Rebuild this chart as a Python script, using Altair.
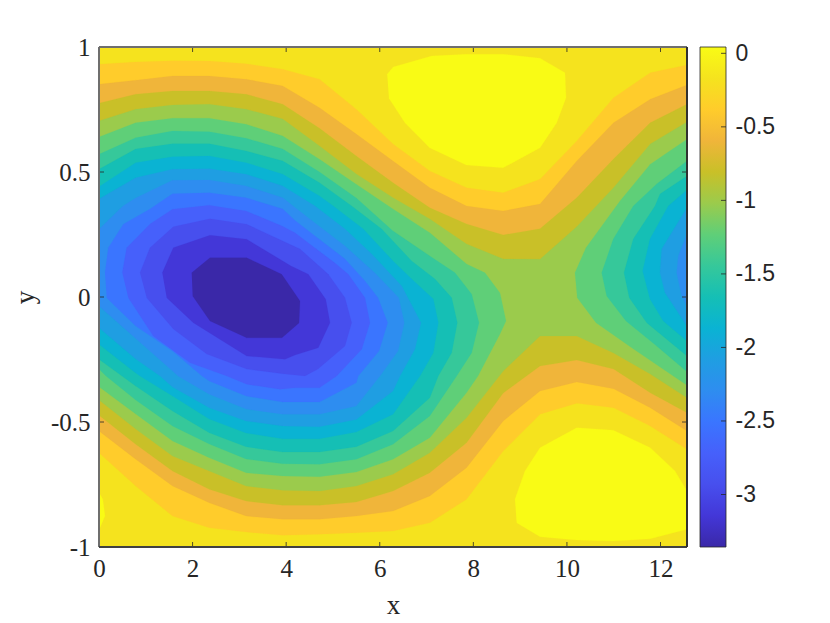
import altair as alt
import pandas as pd

GRID_X = [0, .785, 1.571, 2.356, 3.142, 3.927, 4.712, 5.498, 6.283, 7.069, 7.854, 8.639, 9.425, 10.21, 10.996, 11.781, 12.566]

C1_TOP = [.931, .94, .945, .944, .933, .911, .871, .751, .612, .504, .437, .417, .471, .624, .797, .897, .928]
C1_BOT = [-.623, -.756, -.876, -.923, -.94, -.953, -.949, -.943, -.936, -.903, -.809, -.616, -.469, -.425, -.443, -.516, -.609]
C2_TOP = [.851, .867, .884, .884, .871, .844, .757, .652, .544, .437, .364, .344, .372, .544, .697, .791, .848]
C2_BOT = [-.536, -.649, -.756, -.823, -.876, -.889, -.889, -.876, -.856, -.796, -.683, -.496, -.376, -.34, -.367, -.443, -.536]
C3_TOP = [.775, .811, .824, .824, .811, .771, .675, .564, .457, .357, .292, .248, .273, .397, .552, .697, .771]
C3_BOT = [-.473, -.589, -.696, -.769, -.816, -.833, -.833, -.82, -.776, -.703, -.583, -.384, -.276, -.252, -.288, -.383, -.463]
C4_TOP = [.704, .751, .768, .771, .751, .712, .604, .492, .397, .312, .212, .152, .151, .281, .437, .612, .7]
C4_BOT = [-.412, -.528, -.636, -.696, -.756, -.773, -.776, -.756, -.709, -.623, -.483, -.296, -.156, -.156, -.224, -.308, -.403]

C5_L = [(0,.64),(.785,.697),(1.571,.715),(2.356,.715),(3.142,.691),(3.927,.644),(4.712,.551),(5.498,.451),(6.283,.352),(7.069,.257),(7.854,.132),(8.249,.097),(8.57,.016),(8.698,-.096),(8.57,-.148),(8.1,-.316),(7.854,-.383),(7.069,-.563),(6.283,-.649),(5.498,-.7),(4.712,-.719),(3.927,-.716),(3.142,-.703),(2.356,-.643),(1.571,-.576),(.785,-.468),(0,-.359)]
C5_R = [(12.566,.631),(11.781,.531),(11.134,.384),(10.407,.197),(10.172,.097),(10.221,-.003),(10.621,-.103),(11.384,-.203),(12.273,-.316),(12.566,-.353)]
C6_R = [(12.566,.544),(11.918,.452),(11.418,.364),(10.991,.232),(10.743,.097),(10.85,.004),(11.262,-.096),(11.918,-.196),(12.566,-.299)]
C7_R = [(12.566,.484),(11.989,.412),(11.882,.364),(11.418,.232),(11.22,.097),(11.333,-.003),(11.705,-.103),(12.566,-.236)]
C8_R = [(12.566,.428),(12.166,.364),(11.775,.232),(11.619,.104),(11.775,-.008),(12.059,-.096),(12.566,-.176)]
C9_R = [(12.566,.357),(12.025,.192),(11.989,.097),(12.096,.017),(12.566,-.116)]
C10_R = [(12.566,.252),(12.38,.164),(12.345,.097),(12.452,.004),(12.566,-.036)]
C6_L = [(0,.571),(.785,.637),(1.571,.664),(2.356,.661),(3.142,.635),(3.927,.592),(4.712,.5),(5.498,.396),(6.283,.264),(7.069,.164),(7.608,.097),(7.965,.011),(8.121,-.103),(7.965,-.223),(7.644,-.316),(7.069,-.476),(6.283,-.589),(5.498,-.649),(4.712,-.669),(3.927,-.667),(3.142,-.648),(2.356,-.588),(1.571,-.516),(.785,-.412),(.15,-.316),(0,-.288)]
C7_L = [(0,.511),(.785,.592),(1.571,.613),(2.356,.613),(3.142,.584),(3.927,.544),(4.712,.457),(5.4,.364),(6.041,.272),(6.682,.144),(7.18,.072),(7.537,-.003),(7.657,-.103),(7.537,-.223),(7.251,-.316),(7.069,-.403),(6.283,-.536),(5.498,-.599),(4.712,-.62),(3.927,-.62),(3.142,-.599),(2.356,-.543),(1.571,-.456),(.785,-.356),(0,-.249)]
C8_L = [(0,.441),(.785,.537),(1.571,.561),(2.356,.564),(3.142,.537),(3.927,.491),(4.712,.404),(5.007,.364),(5.648,.272),(6.283,.144),(6.682,.072),(7.144,-.008),(7.251,-.103),(7.144,-.223),(6.86,-.316),(6.283,-.469),(5.498,-.54),(4.712,-.567),(3.927,-.567),(3.142,-.544),(2.356,-.488),(1.571,-.396),(.876,-.316),(.785,-.304),(0,-.189)]
C9_L = [(0,.392),(.785,.477),(1.571,.511),(2.356,.513),(3.142,.491),(3.927,.444),(4.616,.364),(5.257,.272),(5.828,.172),(6.469,.044),(6.881,-.103),(6.753,-.208),(6.432,-.316),(6.283,-.376),(5.498,-.49),(4.712,-.519),(3.927,-.516),(3.142,-.496),(2.356,-.443),(1.571,-.36),(1.304,-.316),(.785,-.248),(0,-.123)]
C10_L = [(0,.271),(.513,.364),(.785,.396),(1.571,.467),(2.356,.468),(3.142,.444),(3.927,.397),(4.189,.358),(4.616,.296),(5.257,.204),(5.898,.096),(6.405,-.003),(6.524,-.103),(6.39,-.216),(6.005,-.316),(5.498,-.436),(4.712,-.469),(3.927,-.469),(3.142,-.448),(2.356,-.389),(1.688,-.316),(1.571,-.296),(.785,-.166),(0,-.036)]
C11 = [(.128,.097),(.199,.197),(.519,.291),(1.09,.352),(1.571,.413),(2.356,.417),(3.142,.397),(3.927,.352),(4.189,.306),(4.616,.244),(5.257,.152),(5.684,.064),(5.962,-.003),(6.169,-.103),(5.984,-.216),(5.541,-.316),(5.498,-.343),(4.712,-.42),(3.927,-.42),(3.142,-.396),(2.356,-.336),(2.201,-.316),(1.571,-.216),(.785,-.116),(.342,-.036),(.165,-.003)]
C12 = [(.498,.097),(.592,.197),(1.09,.292),(1.571,.351),(2.356,.367),(3.142,.344),(3.911,.284),(4.189,.257),(4.616,.196),(5.043,.136),(5.328,.091),(5.684,-.003),(5.791,-.103),(5.614,-.209),(5.08,-.316),(4.712,-.363),(4.189,-.363),(3.868,-.369),(3.156,-.349),(2.729,-.316),(1.945,-.263),(1.16,-.156),(.626,-.003)]
C13 = [(.876,.097),(1.09,.197),(1.588,.281),(2.372,.313),(3.156,.291),(4.295,.192),(4.9,.091),(5.257,-.003),(5.4,-.103),(5.257,-.196),(4.68,-.288),(4.402,-.316),(3.975,-.308),(3.156,-.288),(2.302,-.228),(1.588,-.128),(1.019,-.003)]
C14 = [(1.353,.097),(1.588,.197),(2.372,.247),(3.156,.231),(4.103,.124),(4.473,.091),(4.845,-.009),(4.936,-.103),(4.686,-.203),(4.189,-.232),(3.975,-.249),(3.156,-.236),(2.015,-.103),(1.447,-.003)]
C15 = [(1.981,.097),(2.372,.157),(3.156,.157),(3.904,.091),(4.295,-.016),(4.274,-.104),(3.911,-.163),(3.156,-.163),(2.372,-.096),(2.002,.004)]
TOP_ISLAND = [(6.16,.891),(6.289,.92),(7.11,.964),(7.85,.971),(8.639,.971),(9.425,.955),(9.958,.897),(9.98,.797),(9.781,.697),(9.425,.597),(8.639,.517),(7.85,.528),(7.067,.597),(6.539,.697),(6.197,.795)]
LOW_ISLAND = [(8.89,-.809),(9.104,-.696),(9.425,-.603),(10.21,-.523),(10.99,-.533),(11.781,-.603),(12.309,-.696),(12.566,-.776),(12.566,-.929),(11.781,-.967),(10.99,-.976),(10.21,-.972),(9.425,-.959),(8.926,-.903)]
LEFT_SPOT = [(0,-.783),(.079,-.808),(.128,-.876),(.021,-.923),(0,-.927)]

# band colours, darkest (lowest level) to brightest (highest level)
COLORS = ["#3A28A8","#4337D8","#474FEE","#4660FB","#3A75FF","#2E8DF0","#1F9EE2","#0AB3D3","#15BFB5","#36C89A","#5FCF78","#9BCB4C","#C9C028","#F0B53A","#FFCC2B","#F5E31E","#F9FB15"]

XTICKS = [0, 2, 4, 6, 8, 10, 12]
YTICKS = [-1, -0.5, 0, 0.5, 1]
CBTICKS = [-3, -2.5, -2, -1.5, -1, -0.5, 0]
XMAX = 12.566
CBMIN, CBMAX = -3.357, 0.043
INK = "#262626"
SERIF = "Liberation Serif"
SANS = "Liberation Sans"


def band(a, b):
    return list(zip(GRID_X, a)) + list(zip(reversed(GRID_X), reversed(b)))


POLYS = [
    (band(C1_TOP, C1_BOT), 14), (band(C2_TOP, C2_BOT), 13),
    (band(C3_TOP, C3_BOT), 12), (band(C4_TOP, C4_BOT), 11),
    (C5_L, 10), (C5_R, 10), (C6_L, 9), (C6_R, 9), (C7_L, 8), (C7_R, 8),
    (C8_L, 7), (C8_R, 7), (C9_L, 6), (C9_R, 6), (C10_L, 5), (C10_R, 5),
    (C11, 4), (C12, 3), (C13, 2), (C14, 1), (C15, 0),
    (TOP_ISLAND, 16), (LOW_ISLAND, 16), (LEFT_SPOT, 16),
]

xs = alt.Scale(domain=[0, XMAX], nice=False, zero=False)
ys = alt.Scale(domain=[-1, 1], nice=False, zero=False)
label_expr = "'' + datum.value"
x_axis = alt.Axis(values=XTICKS, title="x", labelFont=SERIF, labelFontSize=25, labelColor=INK, labelExpr=label_expr,
                  labelPadding=9, tickSize=0, domain=False, grid=False, titleFont=SERIF, titleFontSize=27,
                  titleFontWeight="normal", titleColor=INK, titlePadding=11, labelFlush=False, labelOverlap=False)
y_axis = alt.Axis(values=YTICKS, title="y", labelFont=SERIF, labelFontSize=25, labelColor=INK, labelExpr=label_expr,
                  labelPadding=9, tickSize=0, domain=False, grid=False, titleFont=SERIF, titleFontSize=27,
                  titleFontWeight="normal", titleColor=INK, titlePadding=10, labelFlush=False, labelOverlap=False,
                  minExtent=50, maxExtent=50)
X = alt.X("x:Q", scale=xs, axis=x_axis)
X2 = alt.X2("x2:Q")
Y = alt.Y("y:Q", scale=ys, axis=y_axis)
Y2 = alt.Y2("y2:Q")

layers = [
    alt.Chart(pd.DataFrame({"x": [0], "x2": [XMAX], "y": [-1], "y2": [1]}))
    .mark_rect(fill=COLORS[15]).encode(x=X, x2=X2, y=Y, y2=Y2)
]
for pts, k in POLYS:
    df = pd.DataFrame(pts, columns=["x", "y"])
    df["i"] = range(len(df))
    layers.append(
        alt.Chart(df).mark_line(fill=COLORS[k], stroke=COLORS[k], strokeWidth=0.2, clip=True)
        .encode(x=X, y=Y, order="i:Q")
    )

xt = pd.DataFrame({"x": XTICKS})
yt = pd.DataFrame({"y": YTICKS})
tick = dict(color=INK, strokeWidth=0.8)
layers += [
    alt.Chart(xt).mark_rule(**tick).encode(x=X, y=alt.value(500), y2=alt.value(495)),
    alt.Chart(xt).mark_rule(**tick).encode(x=X, y=alt.value(0), y2=alt.value(5)),
    alt.Chart(yt).mark_rule(**tick).encode(y=Y, x=alt.value(0), x2=alt.value(5)),
    alt.Chart(yt).mark_rule(**tick).encode(y=Y, x=alt.value(588), x2=alt.value(583)),
]
frame = [
    (dict(x=alt.value(0), x2=alt.value(588), y=alt.value(0)), "#6E6E6E"),
    (dict(x=alt.value(0), y=alt.value(0), y2=alt.value(500)), "#6E6E6E"),
    (dict(x=alt.value(0), x2=alt.value(588), y=alt.value(500)), "#404040"),
    (dict(x=alt.value(588), y=alt.value(0), y2=alt.value(500)), "#303030"),
]
for f, c in frame:
    layers.append(alt.Chart(xt).mark_rule(color=c, strokeWidth=1).encode(**f))

main = alt.layer(*layers).properties(width=588, height=500)

cb_scale = alt.Scale(domain=[CBMIN, CBMAX], nice=False, zero=False)
cb_axis = alt.Axis(values=CBTICKS, orient="right", title=None, labelFont=SANS, labelFontSize=23, labelColor=INK,
                   labelExpr=label_expr, labelPadding=9, tickSize=0, domain=False, grid=False, labelFlush=False,
                   labelOverlap=False)
CBY = alt.Y("y:Q", scale=cb_scale, axis=cb_axis)
stops = [alt.GradientStop(offset=k / 16, color=c) for k, c in enumerate(COLORS)]
grad = alt.LinearGradient(gradient="linear", stops=stops, x1=0, x2=0, y1=1, y2=0)
cb_rect = (
    alt.Chart(pd.DataFrame({"y": [CBMIN], "y2": [CBMAX]}))
    .mark_rect(fill=grad, stroke=INK, strokeWidth=0.8)
    .encode(y=CBY, y2=Y2, x=alt.value(0), x2=alt.value(26))
)
cb_ticks = (
    alt.Chart(pd.DataFrame({"y": CBTICKS}))
    .mark_rule(color=INK, strokeWidth=0.8)
    .encode(y=CBY, x=alt.value(26), x2=alt.value(21))
)
colorbar = alt.layer(cb_rect, cb_ticks).properties(width=26, height=500)

chart = (
    alt.hconcat(main, colorbar, spacing=11)
    .resolve_scale(y="independent")
    .properties(padding={"left": 3, "top": 27, "right": 5, "bottom": 5}, background="white")
    .configure_view(stroke=None)
)
chart.save("out.html", embed_options={"renderer": "svg", "actions": False})
